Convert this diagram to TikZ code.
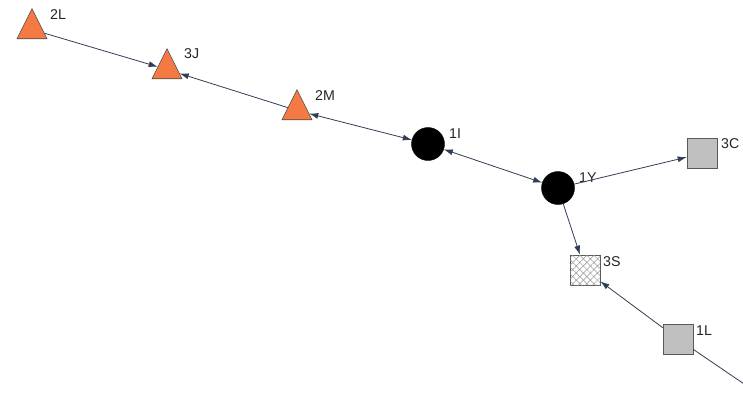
\documentclass[tikz,border=0pt]{standalone}
\usepackage{fontspec}
\setmainfont{Liberation Sans}
\usetikzlibrary{shapes.geometric,arrows.meta,patterns.meta}
\definecolor{tri}{RGB}{244,121,66}
\definecolor{sq}{RGB}{192,192,192}
\definecolor{edge}{RGB}{50,62,85}
\definecolor{hatch}{RGB}{150,150,150}
\tikzset{
  tri/.style={isosceles triangle, isosceles triangle stretches, shape border rotate=90,
    minimum width=30pt, minimum height=30pt, inner sep=0pt, fill=tri, draw=black!70, line width=0.6pt, anchor=apex},
  dot/.style={circle, fill=black, draw=black, minimum size=33pt, inner sep=0pt},
  sqbox/.style={rectangle, fill=sq, draw=black!65, line width=0.7pt, minimum size=30pt, inner sep=0pt},
  hbox/.style={rectangle, draw=black!65, line width=0.7pt, minimum size=30pt, inner sep=0pt, fill=white,
    postaction={pattern={Lines[angle=45,distance=5pt,line width=0.5pt]}, pattern color=hatch},
    postaction={pattern={Lines[angle=-45,distance=5pt,line width=0.5pt]}, pattern color=hatch}},
  lab/.style={anchor=west, inner sep=0pt, font=\fontsize{14.2pt}{15pt}\selectfont, text=black!85},
  conn/.style={draw=edge, line width=0.8pt},
  tip/.style={-{Latex[length=9pt,width=6pt]}},
  tips/.style={{Latex[length=9pt,width=6pt]}-{Latex[length=9pt,width=6pt]}},
}
\begin{document}
\begin{tikzpicture}[x=1pt,y=-1pt]
\useasboundingbox (0,0) rectangle (743,418);
\fill[white] (0,0) rectangle (743,418);
% nodes
\node[tri] (n2L) at (32,8) {};
\node[tri] (n3J) at (167,48) {};
\node[tri] (n2M) at (297,89) {};
\node[dot] (n1I) at (428,144) {};
\node[dot] (n1Y) at (558,188) {};
\node[sqbox] (n3C) at (702,153.5) {};
\node[hbox] (n3S) at (585,270) {};
\node[sqbox] (n1L) at (678,339) {};
\coordinate (out) at (775,405);
% labels
\node[lab] (t2L) at (50,15) {2L};
\node[lab] (t3J) at (184,54) {3J};
\node[lab] (t2M) at (315,96) {2M};
\node[lab] (t1I) at (449,134) {1I};
\node[lab] (t1Y) at (579,178) {1Y};
\node[lab] (t3C) at (721,144) {3C};
\node[lab] (t3S) at (603,262) {3S};
\node[lab] (t1L) at (696,331) {1L};
% connectors
\draw[conn,tip] (n2L) -- (n3J);
\draw[conn,tip] (n2M) -- (n3J);
\draw[conn,tips] (n2M) -- (n1I);
\draw[conn,tips] (n1I) -- (n1Y);
\draw[conn,tip] (n1Y) -- (n3C);
\draw[conn,tip] (n1Y) -- (n3S);
\draw[conn,tip] (n1L) -- (n3S);
\draw[conn] (n1L) -- (out);
\end{tikzpicture}
\end{document}
